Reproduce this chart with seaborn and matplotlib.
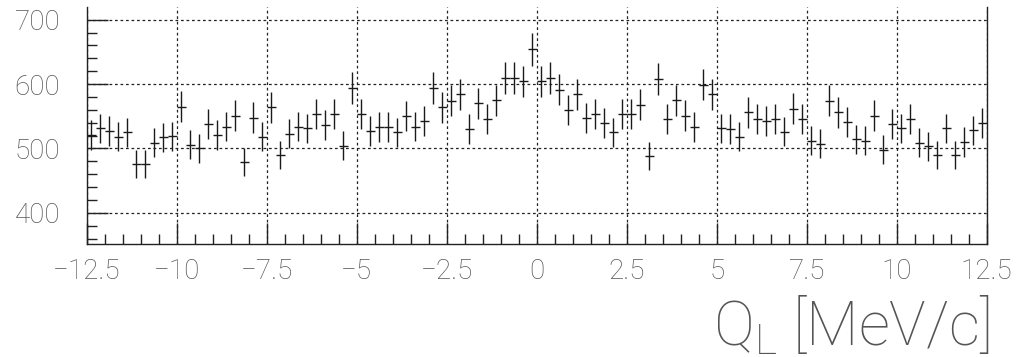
import numpy as np
import matplotlib
matplotlib.use("Agg")
import matplotlib.pyplot as plt
from matplotlib.ticker import MultipleLocator
import seaborn as sns

# Histogram of Q_L: 100 bins of 0.25 MeV/c between -12.5 and 12.5
bin_lo = -12.5
bin_hi = 12.5
n_bins = 100
counts = [
    521, 531, 527, 518, 525, 476, 476, 509, 517, 519,
    565, 506, 500, 538, 521, 534, 551, 479, 548, 518,
    564, 490, 523, 534, 531, 553, 537, 553, 504, 594,
    553, 527, 533, 533, 525, 550, 534, 543, 594, 564,
    574, 584, 530, 570, 545, 575, 609, 609, 604, 654,
    604, 610, 591, 560, 584, 547, 553, 539, 525, 554,
    554, 568, 488, 608, 546, 575, 551, 533, 599, 584,
    531, 530, 518, 556, 545, 542, 545, 526, 562, 545,
    512, 507, 574, 556, 541, 514, 512, 551, 498, 538,
    531, 545, 509, 503, 490, 531, 490, 510, 528, 539,
]
x_ticks = [-12.5, -10, -7.5, -5, -2.5, 0, 2.5, 5, 7.5, 10, 12.5]
x_tick_labels = ["\u221212.5", "\u221210", "\u22127.5", "\u22125", "\u22122.5",
                 "0", "2.5", "5", "7.5", "10", "12.5"]
y_ticks = [400, 500, 600, 700]

sns.set_theme(style="white")
plt.rcParams["font.family"] = ["Roboto", "DejaVu Sans"]
plt.rcParams["font.weight"] = "light"

width = (bin_hi - bin_lo) / n_bins
centers = bin_lo + width * (np.arange(n_bins) + 0.5)
y = np.asarray(counts, dtype=float)

fig = plt.figure(figsize=(10.19, 3.57), dpi=100)
ax = fig.add_axes([0.0851, 0.3165, 0.8832, 0.6635])

ax.errorbar(centers, y, yerr=np.sqrt(y), xerr=width / 2, fmt="none",
            ecolor="#1a1a1a", elinewidth=1.0, capsize=0, zorder=3)

ax.set_xlim(bin_lo, bin_hi)
ax.set_ylim(351.5, 719.5)
ax.set_xticks(x_ticks)
ax.set_xticklabels(x_tick_labels)
ax.set_yticks(y_ticks)
ax.xaxis.set_minor_locator(MultipleLocator(0.5))
ax.yaxis.set_minor_locator(MultipleLocator(20))

ax.grid(True, which="major", color="#222222", linestyle=(0, (2.2, 2.2)),
        linewidth=0.9)
ax.set_axisbelow(True)

for side in ("left", "bottom", "right"):
    ax.spines[side].set_visible(True)
    ax.spines[side].set_color("#222222")
    ax.spines[side].set_linewidth(1.0)
ax.spines["top"].set_visible(False)

ax.tick_params(axis="both", which="major", direction="in", length=15,
               width=1.0, color="#222222", labelsize=20, labelcolor="#555555")
ax.tick_params(axis="both", which="minor", direction="in", length=7.3,
               width=1.0, color="#222222")
ax.tick_params(axis="y", which="major", pad=19)
ax.tick_params(axis="x", which="major", pad=10)
ax.tick_params(left=True, bottom=True, right=False, top=False)
ax.tick_params(which="minor", left=True, bottom=True, right=False, top=False)

fig.text(990 / 1019, 1 - 345 / 357, r"Q$_{\mathregular{L}}$ [MeV/c]",
         ha="right", va="baseline", fontsize=44, color="#555555",
         fontweight="light")

fig.savefig("out.png", dpi=100, facecolor="white")
